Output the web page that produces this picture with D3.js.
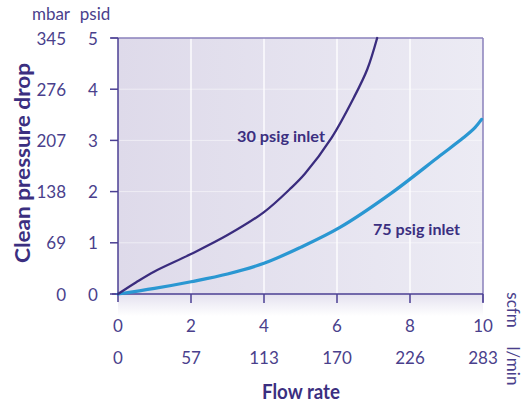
<!DOCTYPE html>
<html>
<head>
<meta charset="UTF-8">
<script src="https://d3js.org/d3.v7.min.js"></script>
<style>
  body { margin: 0; background: #fff; }
  svg { display: block; font-family: Lato, "Open Sans", sans-serif; }
  .tick-label { font-size: 17px; fill: #4a3f8c; }
  .title { font-size: 20px; font-weight: bold; fill: #3b2f80; }
  .series-label { font-size: 16px; font-weight: bold; fill: #3b2f80; }
</style>
</head>
<body>
<svg id="chart" width="529" height="406"></svg>
<script>
// data
const flowTicks = [0, 2, 4, 6, 8, 10];          // scfm
const flowTicksLmin = ["0", "57", "113", "170", "226", "283"];
const psidTicks = [0, 1, 2, 3, 4, 5];
const mbarTicks = ["0", "69", "138", "207", "276", "345"];

const flow30 = [0, 0.5, 1, 2, 3, 4, 4.71, 5.12, 5.85, 6.45, 6.83, 7.1];
const drop30 = [0, 0.23, 0.44, 0.78, 1.15, 1.6, 2.05, 2.35, 3.05, 3.82, 4.39, 5.0];

const flow75 = [0, 1, 2, 3, 4, 5, 6.08, 7.45, 8.82, 9.46, 9.78, 9.96];
const drop75 = [0, 0.11, 0.24, 0.39, 0.6, 0.91, 1.3, 1.95, 2.7, 3.05, 3.25, 3.41];

const svg = d3.select("#chart");
const plotL = 118, plotR = 483, plotT = 38, plotB = 294;

const x = d3.scaleLinear().domain([0, 10]).range([plotL, plotR]);
const y = d3.scaleLinear().domain([0, 5]).range([plotB, plotT]);

const axisColor = "#4b3f93";
const defs = svg.append("defs");

const bg = defs.append("linearGradient").attr("id", "bg")
  .attr("x1", "0").attr("x2", "1").attr("y1", "0").attr("y2", "0");
bg.append("stop").attr("offset", "0").attr("stop-color", "#dedaea");
bg.append("stop").attr("offset", "1").attr("stop-color", "#ecebf4");

const fade = defs.append("linearGradient").attr("id", "fade")
  .attr("x1", "0").attr("x2", "0").attr("y1", "0").attr("y2", "1");
fade.append("stop").attr("offset", "0").attr("stop-color", "#e4e1ef");
fade.append("stop").attr("offset", "1").attr("stop-color", "#ffffff");

// plot background
svg.append("rect")
  .attr("x", plotL).attr("y", plotT)
  .attr("width", plotR - plotL).attr("height", plotB - plotT)
  .attr("fill", "url(#bg)");

// fade under the axis
svg.append("rect")
  .attr("x", plotL).attr("y", plotB)
  .attr("width", plotR - plotL).attr("height", 22)
  .attr("fill", "url(#fade)");

// grid
svg.append("g").selectAll("line")
  .data(flowTicks.slice(1, -1))
  .join("line")
  .attr("x1", d => x(d)).attr("x2", d => x(d))
  .attr("y1", plotT).attr("y2", plotB)
  .attr("stroke", "#fff").attr("stroke-width", 1.5).attr("stroke-opacity", 0.9);

svg.append("g").selectAll("line")
  .data(psidTicks.slice(1, -1))
  .join("line")
  .attr("x1", plotL).attr("x2", plotR)
  .attr("y1", d => y(d)).attr("y2", d => y(d))
  .attr("stroke", "#fff").attr("stroke-width", 1).attr("stroke-opacity", 0.5);

// frame
svg.append("line")
  .attr("x1", 111).attr("x2", plotR).attr("y1", plotT).attr("y2", plotT)
  .attr("stroke", "#8a80bb").attr("stroke-width", 1.5);
svg.append("line")
  .attr("x1", plotR).attr("x2", plotR).attr("y1", plotT).attr("y2", plotB + 8)
  .attr("stroke", "#8a80bb").attr("stroke-width", 1.5);

// y axis
svg.append("line")
  .attr("x1", plotL).attr("x2", plotL).attr("y1", plotT).attr("y2", plotB + 8)
  .attr("stroke", axisColor).attr("stroke-width", 1.5);
svg.append("g").selectAll("line")
  .data(psidTicks)
  .join("line")
  .attr("x1", plotL - 8).attr("x2", plotL)
  .attr("y1", d => y(d)).attr("y2", d => y(d))
  .attr("stroke", axisColor).attr("stroke-width", 1.5);

// x axis
svg.append("line")
  .attr("x1", 112).attr("x2", plotR).attr("y1", plotB).attr("y2", plotB)
  .attr("stroke", axisColor).attr("stroke-width", 1.5);
svg.append("g").selectAll("line")
  .data(flowTicks.slice(1))
  .join("line")
  .attr("x1", d => x(d)).attr("x2", d => x(d))
  .attr("y1", plotB).attr("y2", plotB + 9)
  .attr("stroke", axisColor).attr("stroke-width", 1.5);

// y tick labels
svg.append("g").selectAll("text")
  .data(psidTicks)
  .join("text")
  .attr("class", "tick-label")
  .attr("x", 93).attr("y", d => y(d) + 6.5)
  .attr("text-anchor", "middle")
  .text(d => d);
svg.append("g").selectAll("text")
  .data(mbarTicks)
  .join("text")
  .attr("class", "tick-label")
  .attr("x", 66).attr("y", (d, i) => y(psidTicks[i]) + 6.5)
  .attr("text-anchor", "end")
  .text(d => d);
svg.append("text").attr("class", "tick-label")
  .attr("x", 51).attr("y", 20).attr("text-anchor", "middle").text("mbar");
svg.append("text").attr("class", "tick-label")
  .attr("x", 95).attr("y", 20).attr("text-anchor", "middle").text("psid");

// x tick labels
svg.append("g").selectAll("text")
  .data(flowTicks)
  .join("text")
  .attr("class", "tick-label")
  .attr("x", d => x(d)).attr("y", 332)
  .attr("text-anchor", "middle")
  .text(d => d);
svg.append("g").selectAll("text")
  .data(flowTicksLmin)
  .join("text")
  .attr("class", "tick-label")
  .attr("x", (d, i) => x(flowTicks[i])).attr("y", 364)
  .attr("text-anchor", "middle")
  .text(d => d);
svg.append("text").attr("class", "tick-label")
  .attr("transform", "translate(507,310) rotate(90)")
  .attr("text-anchor", "middle").text("scfm");
svg.append("text").attr("class", "tick-label")
  .attr("transform", "translate(507,366) rotate(90)")
  .attr("text-anchor", "middle").text("l/min");

// titles
svg.append("text").attr("class", "title")
  .attr("transform", "translate(30,163) rotate(-90)")
  .attr("text-anchor", "middle")
  .attr("textLength", 200).attr("lengthAdjust", "spacingAndGlyphs")
  .text("Clean pressure drop");
svg.append("text").attr("class", "title")
  .attr("x", 301).attr("y", 399)
  .attr("text-anchor", "middle")
  .attr("textLength", 78).attr("lengthAdjust", "spacingAndGlyphs")
  .text("Flow rate");

// curves
const line = d3.line()
  .x(d => x(d[0])).y(d => y(d[1]))
  .curve(d3.curveCatmullRom.alpha(0.5));

svg.append("path")
  .datum(d3.zip(flow75, drop75))
  .attr("d", line)
  .attr("fill", "none").attr("stroke", "#2a97d2").attr("stroke-width", 3.2)
  .attr("stroke-linecap", "round");

svg.append("path")
  .datum(d3.zip(flow30, drop30))
  .attr("d", line)
  .attr("fill", "none").attr("stroke", "#3a2c7e").attr("stroke-width", 2.3)
  .attr("stroke-linecap", "round");

svg.append("text").attr("class", "series-label")
  .attr("x", 237).attr("y", 142)
  .attr("textLength", 88).attr("lengthAdjust", "spacingAndGlyphs")
  .text("30 psig inlet");
svg.append("text").attr("class", "series-label")
  .attr("x", 373).attr("y", 235)
  .attr("textLength", 87).attr("lengthAdjust", "spacingAndGlyphs")
  .text("75 psig inlet");
</script>
</body>
</html>
